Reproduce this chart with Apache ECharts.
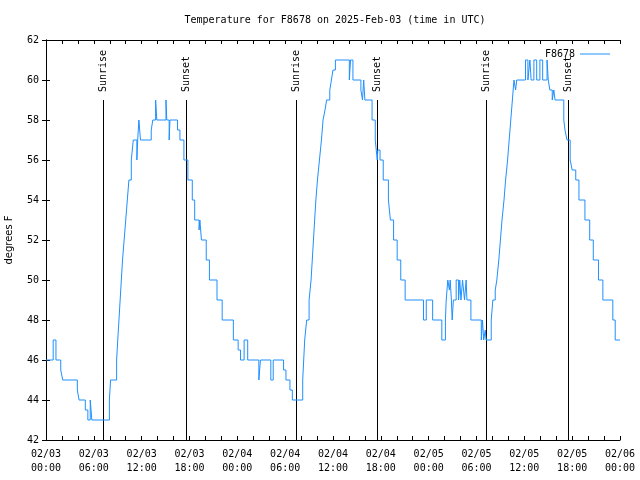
<!DOCTYPE html>
<html><head><meta charset="utf-8">
<script src="https://cdn.jsdelivr.net/npm/echarts@6/dist/echarts.min.js"></script>
<style>html,body{margin:0;padding:0;background:#fff}#c{width:640px;height:480px}</style>
</head><body><div id="c"></div>
<script>
// hours since 2025-02-03 00:00 UTC -> temperature (value changes at that hour)
const stepHours = [0,0.9,1.25,1.85,2.1,3.93,4.15,4.93,5.25,5.55,5.75,7.95,8.1,
8.86,9.0,9.15,9.3,9.45,9.6,9.8,10.0,10.2,10.4,10.7,10.95,
11.4,11.5,11.65,11.85,13.2,13.4,13.75,13.9,15.05,15.15,15.45,15.55,
16.5,16.8,17.3,17.8,18.35,18.65,19.2,19.3,19.5,
20.1,20.5,21.45,22.1,23.5,24.1,24.4,24.85,25.3,
26.7,26.9,28.2,28.5,29.8,30.1,30.6,30.9,
32.2,32.45,32.7,33.0,33.25,33.4,33.55,33.7,33.85,34.05,34.3,34.55,34.75,35.0,35.2,35.6,35.8,36.0,36.3,
38.05,38.2,38.5,39.5,39.7,39.85,40.0,40.9,41.3,41.55,41.62,41.9,42.3,42.95,43.2,43.6,44.05,44.5,45.05,
47.35,47.7,48.5,49.65,50.1,50.2,50.4,50.6,50.7,50.85,50.95,51.1,51.45,51.75,51.9,52.05,52.25,52.5,52.7,52.8,53.3,
54.6,54.75,54.9,55.1,55.2,55.85,56.05,56.35,56.55,56.8,57.0,57.2,57.45,57.65,57.9,58.1,58.3,58.5,58.7,58.9,59.05,
60.15,60.45,60.7,60.85,61.2,61.55,61.95,62.3,62.85,63.0,63.2,63.5,63.7,63.85,64.95,65.1,65.35,65.75,66.0,66.45,66.85,
67.6,68.2,68.65,69.3,69.85,71.1,71.4,72];
const stepTemps = [46,47,46,45.5,45,44.5,44,43.5,43,44,43,44,45,
46,47,48,49,50,51,52,53,54,55,56,57,
56,57,58,57,57.5,58,59,58,59,58,57,58,
57.5,57,56,55,54,53,52.5,53,52,
51,50,49,48,47,46.5,46,47,46,
45,46,45,46,45.5,45,44.5,44,
45,47,48,49,50,51,52,53,54,55,56,57,58,58.5,59,59.5,60,60.5,61,
60,61,60,59.5,59,60,59,58,57,56,56.5,56,55,54,53,52,51,50,49,
48,49,48,47,48,49,50,49.5,50,49,48,49,50,49,50,49,50,49,50,49,48,
47,48,47,47.5,47,48,49,49.5,50,51,52,53,54,55,56,57,58,59,60,59.5,60,
61,60,61,60,61,60,61,60,61,60,59.5,59,59.5,59,58,57.5,57,56,55.5,55,54,
53,52,51,50,49,48,47,47];
const sunriseHours = [7.2, 31.3, 55.23];
const sunsetHours = [17.5, 41.55, 65.53];
const xTickLabels = ['02/03\n00:00','02/03\n06:00','02/03\n12:00','02/03\n18:00','02/04\n00:00','02/04\n06:00','02/04\n12:00','02/04\n18:00','02/05\n00:00','02/05\n06:00','02/05\n12:00','02/05\n18:00','02/06\n00:00'];
const seriesName = 'F8678';
const titleText = 'Temperature for F8678 on 2025-Feb-03 (time in UTC)';

const mono = 'DejaVu Sans Mono';
const seriesData = stepHours.map((h, i) => [h, stepTemps[i]]);
const markers = sunriseHours.map(h => [h, 'Sunrise']).concat(sunsetHours.map(h => [h, 'Sunset']));

const chart = echarts.init(document.getElementById('c'), null, {renderer: 'canvas'});
const axisCommon = {
  axisLine: {show: true, lineStyle: {color: '#000', width: 1}},
  axisTick: {show: true, inside: true, length: 4, lineStyle: {color: '#000'}},
  splitLine: {show: false}
};
chart.setOption({
  animation: false,
  backgroundColor: '#fff',
  title: {text: titleText, left: 330, textAlign: 'center', top: 10,
    textStyle: {fontFamily: mono, fontSize: 10, fontWeight: 'normal', color: '#000'}},
  legend: {right: 25, top: 44, data: [{name: seriesName, icon: 'rect'}], itemWidth: 30, itemHeight: 1,
    align: 'right', itemGap: 6,
    textStyle: {fontFamily: mono, fontSize: 10, color: '#000', padding: [0, 0, 0, 0]}},
  grid: {left: 46, right: 20, top: 40, bottom: 40, containLabel: false, outerBoundsMode: 'none'},
  xAxis: [
    Object.assign({type: 'value', position: 'bottom', min: 0, max: 72, interval: 2,
      axisLabel: {fontFamily: mono, fontSize: 10, color: '#000', margin: 7, lineHeight: 14,
        formatter: v => (v % 6 === 0 ? xTickLabels[v / 6] : '')}}, axisCommon),
    Object.assign({type: 'value', position: 'top', min: 0, max: 72, interval: 2,
      axisLabel: {show: false}}, axisCommon)
  ],
  yAxis: [
    Object.assign({type: 'value', position: 'left', min: 42, max: 62, interval: 2,
      name: 'degrees F', nameLocation: 'middle', nameRotate: 90, nameGap: 32,
      nameTextStyle: {fontFamily: 'DejaVu Sans', fontSize: 10, color: '#000'},
      axisLabel: {fontFamily: mono, fontSize: 10, color: '#000', margin: 7}}, axisCommon),
    Object.assign({type: 'value', position: 'right', min: 42, max: 62, interval: 2,
      axisLabel: {show: false}}, axisCommon)
  ],
  series: [
    {
      type: 'custom', name: 'sun', silent: true, data: markers, z: 1,
      renderItem: function (params, api) {
        const h = api.value(0);
        const p0 = api.coord([h, 42]);
        const p1 = api.coord([h, 59]);
        const x = Math.round(p0[0]) + 0.5;
        return {type: 'group', children: [
          {type: 'line', shape: {x1: x, y1: p0[1], x2: x, y2: p1[1]}, style: {stroke: '#000', lineWidth: 1}},
          {type: 'text', x: x, y: p1[1] - 8, rotation: Math.PI / 2,
            style: {text: markers[params.dataIndex][1], fontFamily: mono, fontSize: 10, fill: '#000',
              align: 'left', verticalAlign: 'middle'}}
        ]};
      }
    },
    {
      type: 'line', name: seriesName, data: seriesData, step: 'end', symbol: 'none', z: 3,
      color: '#1e90ff', lineStyle: {width: 1, color: '#1e90ff'}
    }
  ]
});
</script></body></html>
